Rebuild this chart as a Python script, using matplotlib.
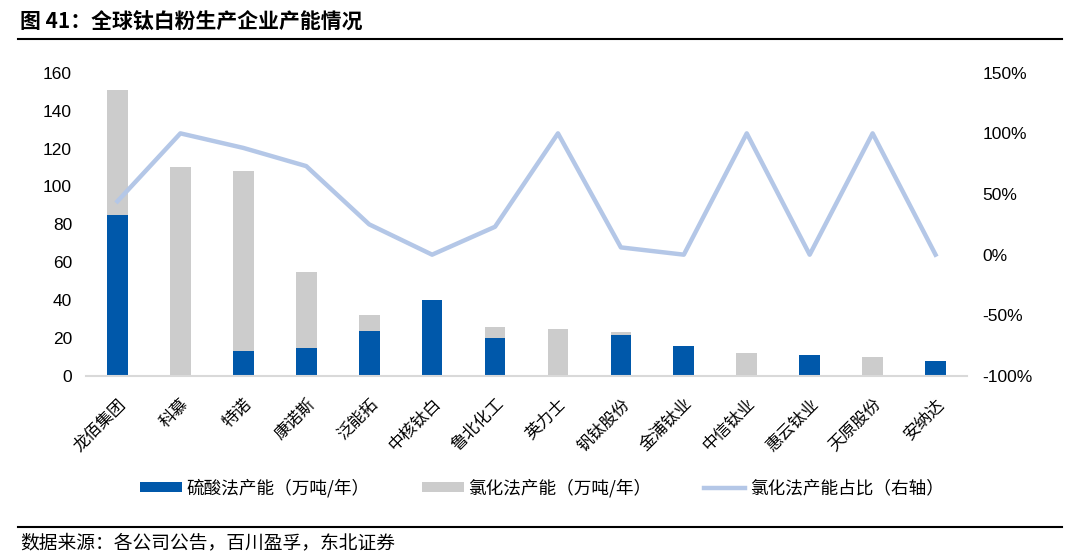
import matplotlib
matplotlib.use("Agg")
import matplotlib.pyplot as plt
from matplotlib.patches import Patch
from matplotlib.lines import Line2D
import matplotlib.transforms as mtransforms
import numpy as np

plt.rcParams['font.family'] = ['Noto Sans CJK SC', 'DejaVu Sans']

companies = ["龙佰集团", "科慕", "特诺", "康诺斯", "泛能拓", "中核钛白", "鲁北化工",
             "英力士", "钒钛股份", "金浦钛业", "中信钛业", "惠云钛业", "天原股份", "安纳达"]
sulfuric = [85, 0, 13, 15, 24, 40, 20, 0, 21.5, 16, 0, 11, 0, 8]
chloride = [66, 110, 95, 40, 8, 0, 6, 25, 1.5, 0, 12, 0, 10, 0]
chloride_share = [44, 100, 88, 73, 25, 0, 23, 100, 6, 0, 100, 0, 100, 0]

left_ticks = [0, 20, 40, 60, 80, 100, 120, 140, 160]
right_ticks = [-100, -50, 0, 50, 100, 150]
right_labels = ["-100%", "-50%", "0%", "50%", "100%", "150%"]

legend_labels = ["硫酸法产能（万吨/年）", "氯化法产能（万吨/年）", "氯化法产能占比（右轴）"]
title = "图 41：全球钛白粉生产企业产能情况"
source = "数据来源：各公司公告，百川盈孚，东北证券"

BLUE = "#0058AA"
GRAY = "#CCCCCC"
LINE = "#B4C7E7"

W, H = 1080, 559
fig = plt.figure(figsize=(W / 100, H / 100), dpi=100)
ax = fig.add_axes([86 / W, 1 - 376 / H, (967 - 86) / W, (376 - 72.7) / H])

x = np.arange(len(companies))
bw = 0.33
ax.bar(x, sulfuric, bw, color=BLUE, zorder=2)
ax.bar(x, chloride, bw, bottom=sulfuric, color=GRAY, zorder=2)

ax.set_xlim(-0.5, len(companies) - 0.5)
ax.set_ylim(0, 160)
ax.set_yticks(left_ticks)
ax.set_yticklabels([str(v) for v in left_ticks], family=['Liberation Sans', 'DejaVu Sans'], fontsize=12.5)
ax.set_xticks(x)
ax.set_xticklabels(companies, rotation=45, ha='right', va='top', rotation_mode='anchor', fontsize=12)
offset = mtransforms.ScaledTranslation(7 / 100, 0, fig.dpi_scale_trans)
for lab in ax.get_xticklabels():
    lab.set_transform(lab.get_transform() + offset)
ax.tick_params(axis='x', length=0, pad=14)
ax.tick_params(axis='y', length=0, pad=10)
for s in ['top', 'right', 'left']:
    ax.spines[s].set_visible(False)
ax.spines['bottom'].set_color('#D9D9D9')
ax.spines['bottom'].set_linewidth(1.5)

ax2 = ax.twinx()
ax2.plot(x, chloride_share, color=LINE, lw=3.2, zorder=3)
ax2.set_ylim(-100, 150)
ax2.set_yticks(right_ticks)
ax2.set_yticklabels(right_labels, family=['Liberation Sans', 'DejaVu Sans'], fontsize=12.5)
ax2.tick_params(axis='y', length=0, pad=11)
for s in ['top', 'right', 'left', 'bottom']:
    ax2.spines[s].set_visible(False)

handles = [Patch(facecolor=BLUE, edgecolor='none'),
           Patch(facecolor=GRAY, edgecolor='none'),
           Line2D([0], [0], color=LINE, lw=3.2)]
fig.legend(handles, legend_labels, loc='center', bbox_to_anchor=(542 / W, 1 - 488 / H),
           ncol=3, frameon=False, fontsize=12.7, handlelength=2.35, handleheight=0.55,
           handletextpad=0.25, columnspacing=3.0)

fig.text(20 / W, 1 - 22 / H, title, fontsize=15, fontweight='bold', va='center', ha='left')
fig.add_artist(Line2D([18 / W, 1062 / W], [1 - 39 / H, 1 - 39 / H], color='black', lw=1.5))
fig.add_artist(Line2D([18 / W, 1062 / W], [1 - 527 / H, 1 - 527 / H], color='black', lw=1.5))
fig.text(20 / W, 1 - 543 / H, source, fontsize=13.5, va='center', ha='left')

fig.savefig("out.png", dpi=100)
